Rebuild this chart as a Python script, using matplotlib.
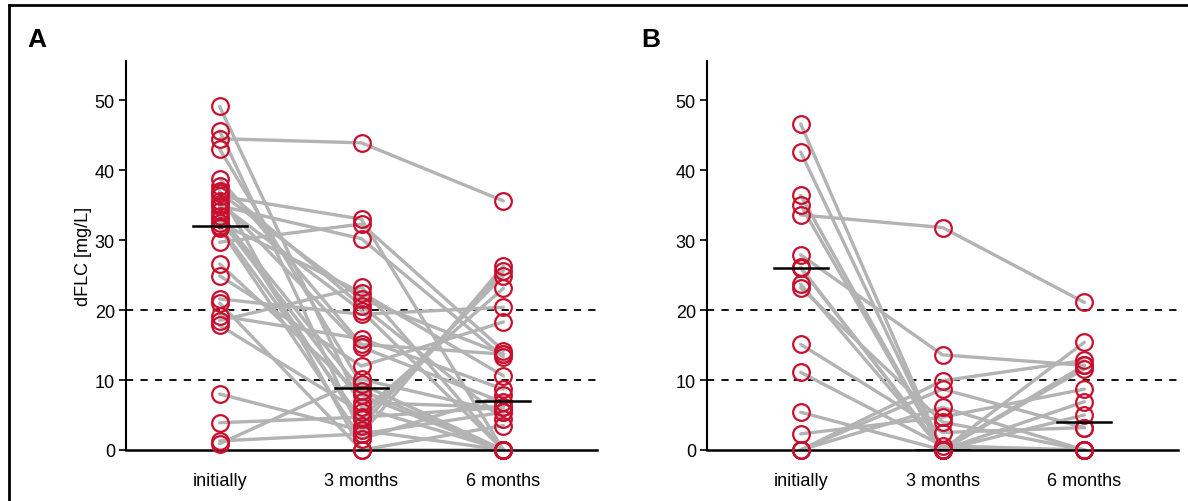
import numpy as np
import matplotlib
matplotlib.use('Agg')
import matplotlib.pyplot as plt
from matplotlib.lines import Line2D

plt.rcParams['font.family'] = ['Liberation Sans', 'DejaVu Sans']

timepoints = ['initially', '3 months', '6 months']

# panel A: dFLC [mg/L] per patient, initially / 3 months / 6 months
a_initial = [49.1, 45.6, 44.5, 43.0, 38.8, 37.8, 37.0, 36.3, 35.6, 34.9,
             34.2, 33.5, 32.5, 32.0, 31.7, 29.7, 26.6, 24.9, 21.6, 19.2,
             18.5, 17.8, 8.0, 3.9, 1.3, 0.9, 36.8, 35.2, 33.0, 21.0]
a_3m = [6.1, 2.3, 43.9, 9.4, 15.1, 20.6, 0.0, 33.0, 14.7, 30.2,
        3.5, 8.5, 22.5, 4.4, 1.6, 32.3, 7.8, 12.0, 19.4, 15.9,
        23.3, 5.4, 2.8, 4.7, 2.3, 10.1, 21.6, 19.9, 6.8, 0.0]
a_6m = [0.0, 5.4, 35.6, 0.0, 13.7, 4.4, 3.5, 0.0, 6.8, 13.3,
        25.6, 0.0, 10.6, 24.9, 7.8, 14.2, 0.0, 18.3, 20.4, 8.7,
        0.0, 23.1, 0.0, 6.1, 26.3, 5.4, 13.7, 0.0, 6.1, 0.0]
a_median = [32.0, 8.8, 7.0]

# panel B
b_initial = [46.6, 42.6, 36.4, 35.0, 33.6, 27.9, 26.1, 26.0, 23.7, 23.2,
             15.1, 11.1, 5.4, 2.3, 0.0, 0.0, 0.0]
b_3m = [0.0, 0.0, 0.0, 0.0, 31.8, 13.6, 0.0, 0.0, 0.0, 4.0,
        2.5, 0.6, 0.0, 4.7, 9.9, 8.7, 6.1]
b_6m = [0.0, 12.1, 15.4, 0.0, 21.1, 12.1, 11.6, 5.0, 0.0, 0.0,
        3.2, 0.0, 6.9, 8.7, 12.8, 3.2, 0.0]
b_median = [26.0, 0.0, 4.0]

red = '#C8102E'
grey = '#B3B3B3'

fig = plt.figure(figsize=(11.88, 5.02), dpi=100)
ax_a = fig.add_axes([126 / 1188, 51 / 502, 471 / 1188, 389 / 502])
ax_b = fig.add_axes([707 / 1188, 51 / 502, 471 / 1188, 389 / 502])


def draw_panel(ax, initial, m3, m6, medians):
    data = np.array([initial, m3, m6]).T
    x = np.arange(3)
    for row in data:
        ax.plot(x, row, color=grey, lw=2.4, zorder=2, solid_capstyle='round')
    for i in range(3):
        ax.plot(np.full(len(data), x[i]), data[:, i], 'o', ms=12, mfc='none',
                mec=red, mew=1.6, zorder=3, clip_on=False)
        ax.plot([x[i] - 0.19, x[i] + 0.19], [medians[i]] * 2, color='black',
                lw=1.8, zorder=4)
    for yv in (10, 20):
        ax.axhline(yv, color='black', lw=1.3, ls=(0, (4, 4)), zorder=1)
    ax.set_xlim(-0.66, 2.66)
    ax.set_ylim(0, 55.6)
    ax.set_yticks([0, 10, 20, 30, 40, 50])
    ax.set_xticks(x)
    ax.set_xticklabels(timepoints, fontsize=13)
    ax.tick_params(axis='x', length=0, pad=16)
    ax.tick_params(axis='y', length=5, width=1.2, labelsize=13, pad=3)
    for s in ('top', 'right'):
        ax.spines[s].set_visible(False)
    ax.spines['left'].set_linewidth(1.5)
    ax.spines['bottom'].set_linewidth(1.8)
    ax.spines['bottom'].set_zorder(2.5)


draw_panel(ax_a, a_initial, a_3m, a_6m, a_median)
draw_panel(ax_b, b_initial, b_3m, b_6m, b_median)
ax_a.set_ylabel('dFLC [mg/L]', fontsize=13, labelpad=2)

fig.text(27 / 1188, 1 - 40 / 502, 'A', fontsize=19, fontweight='bold', va='center')
fig.text(641 / 1188, 1 - 40 / 502, 'B', fontsize=19, fontweight='bold', va='center')

# frame around the figure (top and left edges visible)
fig.add_artist(Line2D([9 / 1188, 1], [1 - 6 / 502, 1 - 6 / 502], color='black', lw=2))
fig.add_artist(Line2D([9 / 1188, 9 / 1188], [0, 1 - 6 / 502], color='black', lw=2))

fig.savefig('out.png', dpi=100)
